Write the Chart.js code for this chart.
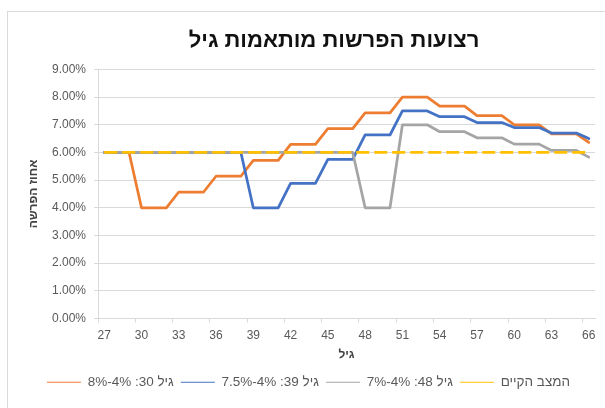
<!DOCTYPE html>
<html><head><meta charset="utf-8">
<script src="https://cdn.jsdelivr.net/npm/chart.js@4/dist/chart.umd.min.js"></script>
<style>
html,body{margin:0;padding:0;background:#fff;width:605px;height:408px;overflow:hidden}
#frame{position:absolute;left:7px;top:11px;width:700px;height:500px;border-left:1px solid #d9d9d9;border-top:1px solid #d9d9d9}
#wrap{position:absolute;left:0;top:0;width:605px;height:408px}
</style></head><body>
<div id="frame"></div>
<div id="wrap"><canvas id="c"></canvas></div>
<script>
const chartTitle = 'רצועות הפרשות מותאמות גיל';
const xTitle = 'גיל';
const yTitle = 'אחוז הפרשה';
const ages = [27,28,29,30,31,32,33,34,35,36,37,38,39,40,41,42,43,44,45,46,47,48,49,50,51,52,53,54,55,56,57,58,59,60,61,62,63,64,65,66];
const seriesNames = ['גיל 30: 4%-8%', 'גיל 39: 4%-7.5%', 'גיל 48: 4%-7%', 'המצב הקיים'];
const age30Values = [6,6,6, 4,4,4, 4.57,4.57,4.57, 5.14,5.14,5.14, 5.71,5.71,5.71, 6.29,6.29,6.29, 6.86,6.86,6.86, 7.43,7.43,7.43, 8,8,8, 7.67,7.67,7.67, 7.33,7.33,7.33, 7,7,7, 6.67,6.67,6.67, 6.36];
const age39Values = [6,6,6,6,6,6,6,6,6,6,6,6, 4,4,4, 4.88,4.88,4.88, 5.75,5.75,5.75, 6.63,6.63,6.63, 7.5,7.5,7.5, 7.29,7.29,7.29, 7.08,7.08,7.08, 6.9,6.9,6.9, 6.7,6.7,6.7, 6.5];
const age48Values = [6,6,6,6,6,6,6,6,6,6,6,6,6,6,6,6,6,6,6,6,6, 4,4,4, 7,7,7, 6.75,6.75,6.75, 6.53,6.53,6.53, 6.3,6.3,6.3, 6.07,6.07,6.07, 5.83];
const currentValues = [6,6,6,6,6,6,6,6,6,6,6,6,6,6,6,6,6,6,6,6,6,6,6,6,6,6,6,6,6,6,6,6,6,6,6,6,6,6,6,6];
const yTicks = [0,1,2,3,4,5,6,7,8,9];

const FAMILY = "'Liberation Sans', Arial, 'DejaVu Sans', sans-serif";

new Chart(document.getElementById('c'), {
  type: 'line',
  data: {
    labels: ages,
    datasets: [
      {label: seriesNames[0], data: age30Values, borderColor: '#ED7D31', backgroundColor: '#ED7D31', order: 3},
      {label: seriesNames[1], data: age39Values, borderColor: '#4472C4', backgroundColor: '#4472C4', order: 2},
      {label: seriesNames[2], data: age48Values, borderColor: '#A5A5A5', backgroundColor: '#A5A5A5', order: 1},
      {label: seriesNames[3], data: currentValues, borderColor: '#FFC000', backgroundColor: '#FFC000', borderDash: [13,5], borderCapStyle: 'butt', order: 0}
    ]
  },
  options: {
    responsive: true, maintainAspectRatio: false, animation: false,
    layout: {padding: {left: 22, right: 10, top: 0, bottom: 9}},
    elements: {
      line: {borderWidth: 2.75, tension: 0, borderJoinStyle: 'round', borderCapStyle: 'round', fill: false},
      point: {radius: 0, hoverRadius: 0}
    },
    plugins: {
      title: {display: true, text: chartTitle, font: {family: FAMILY, size: 22, weight: 'bold'}, color: '#111', padding: {top: 28, bottom: 15}},
      legend: {position: 'bottom', textDirection: 'rtl',
        labels: {usePointStyle: true, pointStyle: 'line', pointStyleWidth: 34, boxHeight: 13.5, color: '#595959', font: {family: FAMILY, size: 13.5}, padding: 7,
          sort: (a, b) => a.datasetIndex - b.datasetIndex}},
      tooltip: {enabled: false}
    },
    scales: {
      x: {
        type: 'category', offset: true,
        grid: {drawOnChartArea: false, drawTicks: true, tickLength: 4, offset: true,
          color: ctx => (ctx.index % 3 === 0 && ctx.index < ages.length) ? '#d9d9d9' : 'rgba(0,0,0,0)'},
        border: {color: '#d9d9d9'},
        ticks: {autoSkip: false, maxRotation: 0, minRotation: 0, padding: 6, color: '#595959', font: {family: FAMILY, size: 12},
          callback: (v, i) => (i % 3 === 0 ? String(ages[i]) : '')},
        title: {display: true, text: xTitle, font: {family: FAMILY, size: 12, weight: 'bold'}, color: '#404040', padding: {top: 0, bottom: 7}},
        afterFit: s => { s.height = 50; s.paddingLeft = 0; s.paddingRight = 0; }
      },
      y: {
        min: 0, max: 9,
        afterBuildTicks: s => { s.ticks = yTicks.map(v => ({value: v})); },
        ticks: {padding: 8, color: '#595959', font: {family: FAMILY, size: 12}, callback: v => Number(v).toFixed(2) + '%'},
        grid: {color: '#d9d9d9', tickLength: 4},
        border: {color: '#d9d9d9'},
        title: {display: true, text: yTitle, font: {family: FAMILY, size: 12, weight: 'bold'}, color: '#404040'},
        afterFit: s => { s.width = 76; }
      }
    }
  },
  plugins: [{id: 'titleShift', afterLayout(chart) { chart.titleBlock.left = 73; chart.titleBlock.right = 595; }}]
});
</script>
</body></html>
